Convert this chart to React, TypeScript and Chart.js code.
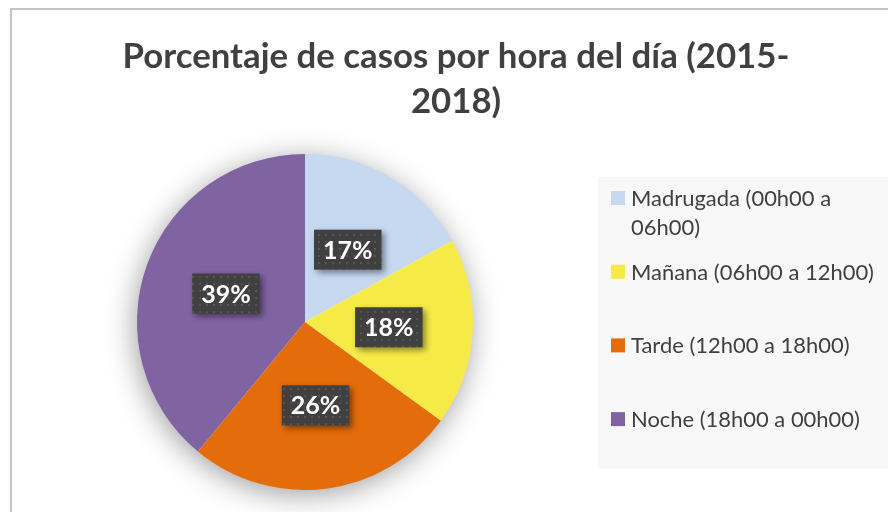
import React, { useEffect, useRef } from "react";
import { Chart, registerables } from "chart.js";
Chart.register(...registerables);

const titleLines = ["Porcentaje de casos por hora del día (2015-", "2018)"];
const categories = [
  "Madrugada (00h00 a 06h00)",
  "Mañana (06h00 a 12h00)",
  "Tarde (12h00 a 18h00)",
  "Noche (18h00 a 00h00)",
];
const values = [17, 18, 26, 39];
const colors = ["#C6D9F1", "#F6EB46", "#E46C0A", "#8064A2"];

const TEXT = "#404040";

function wrap(ctx: CanvasRenderingContext2D, text: string, maxW: number): string[] {
  const words = text.split(" ");
  const lines: string[] = [];
  let cur = "";
  for (const w of words) {
    const t = cur ? cur + " " + w : w;
    if (ctx.measureText(t).width > maxW && cur) {
      lines.push(cur);
      cur = w;
    } else cur = t;
  }
  if (cur) lines.push(cur);
  return lines;
}

function fitSize(ctx: CanvasRenderingContext2D, text: string, weight: string, family: string, target: number) {
  ctx.font = `${weight} 100px ${family}`;
  const w = ctx.measureText(text).width;
  return (100 * target) / w;
}

const framePlugin = {
  id: "frame",
  beforeDraw(chart: any) {
    const ctx = chart.ctx as CanvasRenderingContext2D;
    ctx.save();
    ctx.fillStyle = "#FFFFFF";
    ctx.fillRect(0, 0, chart.width, chart.height);
    ctx.strokeStyle = "#C4C4C4";
    ctx.lineWidth = 2;
    ctx.beginPath();
    ctx.moveTo(11, chart.height);
    ctx.lineTo(11, 9);
    ctx.lineTo(chart.width, 9);
    ctx.stroke();
    ctx.fillStyle = "#F8F8F8";
    ctx.fillRect(598, 177, chart.width - 598, 469 - 177);
    ctx.restore();
  },
  beforeDatasetsDraw(chart: any) {
    const arc = chart.getDatasetMeta(0).data[0];
    if (!arc) return;
    const { x, y, outerRadius } = arc.getProps(["x", "y", "outerRadius"], true);
    const ctx = chart.ctx as CanvasRenderingContext2D;
    ctx.save();
    ctx.shadowColor = "rgba(0,0,0,0.4)";
    ctx.shadowBlur = 30;
    ctx.shadowOffsetX = -2;
    ctx.shadowOffsetY = 5;
    ctx.fillStyle = "#FFFFFF";
    ctx.beginPath();
    ctx.arc(x, y, outerRadius - 1, 0, Math.PI * 2);
    ctx.fill();
    ctx.restore();
  },
  afterDatasetsDraw(chart: any) {
    const ctx = chart.ctx as CanvasRenderingContext2D;
    const meta = chart.getDatasetMeta(0);
    const total = values.reduce((a, b) => a + b, 0);
    const pc = document.createElement("canvas");
    pc.width = 7;
    pc.height = 7;
    const pctx = pc.getContext("2d")!;
    pctx.fillStyle = "#404040";
    pctx.fillRect(0, 0, 7, 7);
    pctx.fillStyle = "#555555";
    pctx.fillRect(3, 3, 2, 2);
    const pattern = ctx.createPattern(pc, "repeat")!;
    meta.data.forEach((el: any, i: number) => {
      const pos = el.tooltipPosition(true);
      const label = Math.round((values[i] / total) * 100) + "%";
      ctx.save();
      ctx.font = "bold 25px Lato";
      const tw = ctx.measureText(label).width;
      const bw = tw + 18;
      const bh = 40;
      const bx = pos.x - bw / 2;
      const by = pos.y - bh / 2;
      ctx.shadowColor = "rgba(0,0,0,0.45)";
      ctx.shadowBlur = 6;
      ctx.shadowOffsetX = 3;
      ctx.shadowOffsetY = 3;
      ctx.fillStyle = pattern;
      ctx.fillRect(bx, by, bw, bh);
      ctx.restore();
      ctx.save();
      ctx.font = "bold 25px Lato";
      ctx.fillStyle = "#FFFFFF";
      ctx.textAlign = "center";
      ctx.textBaseline = "alphabetic";
      ctx.fillText(label, pos.x, pos.y + 9);
      ctx.restore();
    });
  },
  afterDraw(chart: any) {
    const ctx = chart.ctx as CanvasRenderingContext2D;
    ctx.save();
    const ts = fitSize(ctx, titleLines[0], "bold", "Lato", 667);
    ctx.font = `bold ${ts}px Lato`;
    ctx.fillStyle = TEXT;
    ctx.textAlign = "center";
    ctx.textBaseline = "alphabetic";
    ctx.fillText(titleLines[0], 456, 68);
    ctx.fillText(titleLines[1], 456, 113);
    const ls = fitSize(ctx, categories[1], "normal", "Lato", 243);
    ctx.font = `normal ${ls}px Lato`;
    ctx.textAlign = "left";
    categories.forEach((c, i) => {
      const cy = 198 + i * 73.7;
      ctx.fillStyle = colors[i];
      ctx.fillRect(611, cy - 7, 14, 14);
      ctx.fillStyle = TEXT;
      const lines = wrap(ctx, c, 250);
      lines.forEach((l, j) => {
        ctx.fillText(l, 631, cy + ls * 0.36 + j * 29);
      });
    });
    ctx.restore();
  },
};

export default function App() {
  const ref = useRef<HTMLCanvasElement | null>(null);
  useEffect(() => {
    document.body.style.margin = "0";
    if (!ref.current) return;
    const chart = new Chart(ref.current, {
      type: "pie",
      data: {
        labels: categories,
        datasets: [
          {
            data: values,
            backgroundColor: colors,
            borderWidth: 0,
          },
        ],
      },
      options: {
        responsive: false,
        animation: false,
        devicePixelRatio: 1,
        layout: { padding: { left: 137, top: 154, right: 415, bottom: 22 } },
        plugins: {
          legend: { display: false },
          tooltip: { enabled: false },
          title: { display: false },
        },
      },
      plugins: [framePlugin],
    });
    return () => chart.destroy();
  }, []);
  return (
    <div style={{ width: 888, height: 512 }}>
      <canvas ref={ref} width={888} height={512} style={{ display: "block" }} />
    </div>
  );
}
